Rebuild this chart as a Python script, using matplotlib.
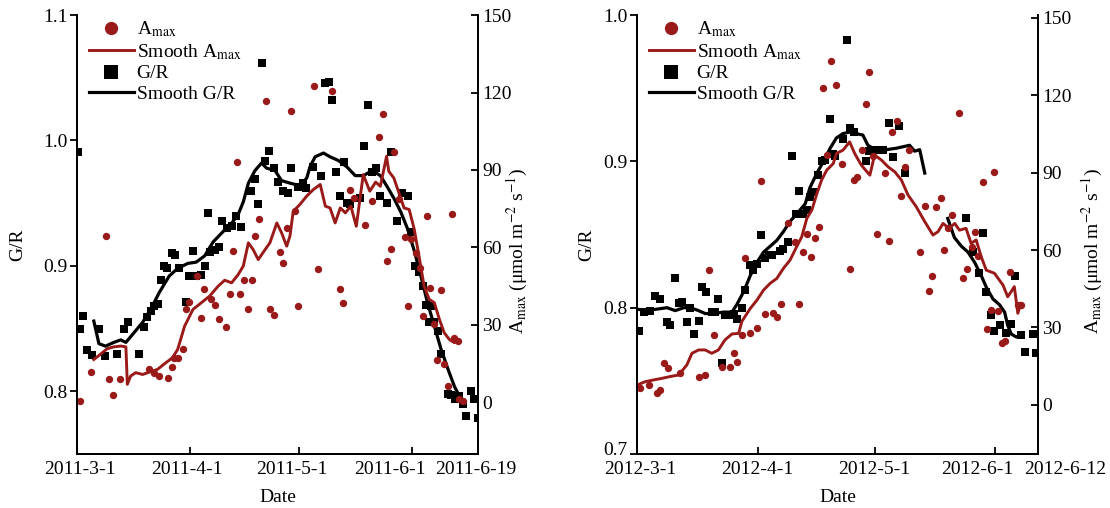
import numpy as np
import matplotlib
matplotlib.use("Agg")
import matplotlib.pyplot as plt
import matplotlib.dates as mdates
from matplotlib.transforms import ScaledTranslation
from datetime import datetime

# ---- 2011 (days after 2011-3-1) ----
gr11_day = [0.3, 0.7, 1.7, 2.8, 4.1, 6.0, 7.8, 10.9, 12.9, 14.0, 16.9, 18.4, 19.2, 20.4, 21.2, 22.1,
            23.0, 23.8, 24.7, 26.1, 27.0, 28.1, 29.9, 30.8, 31.9, 32.7, 34.1, 35.0, 35.9, 36.4, 37.8,
            38.9, 39.8, 41.2, 42.5, 43.7, 44.9, 47.6, 48.8, 49.7, 50.6, 51.6, 52.7, 53.9, 55.2, 56.5,
            57.9, 58.8, 60.7, 61.9, 62.8, 64.8, 67.0, 68.1, 69.0, 69.9, 71.1, 72.0, 73.1, 74.0, 75.0,
            77.7, 78.8, 79.8, 80.8, 81.9, 83.0, 84.9, 86.0, 87.7, 89.2, 90.8, 91.5, 92.6, 93.8, 94.8,
            95.7, 96.6, 97.0, 98.0, 98.9, 99.8, 101.7, 102.6, 103.6, 104.7, 105.8, 106.6, 108.0,
            109.0, 110.0]
gr11 = [0.991, 0.850, 0.860, 0.833, 0.829, 0.850, 0.828, 0.830, 0.850, 0.855, 0.830, 0.851, 0.859,
        0.864, 0.868, 0.870, 0.889, 0.900, 0.898, 0.910, 0.909, 0.898, 0.871, 0.892, 0.912, 0.892,
        0.893, 0.900, 0.942, 0.911, 0.913, 0.915, 0.936, 0.930, 0.932, 0.940, 0.931, 0.960, 0.969,
        0.949, 1.062, 0.984, 0.992, 0.978, 0.967, 0.960, 0.958, 0.978, 0.963, 0.966, 0.962, 0.979,
        0.972, 1.046, 1.047, 1.032, 0.975, 0.956, 0.983, 0.950, 0.949, 0.954, 0.996, 1.028, 0.975,
        0.978, 0.956, 0.950, 0.991, 0.936, 0.958, 0.956, 0.927, 0.900, 0.895, 0.884, 0.869, 0.855,
        0.868, 0.855, 0.848, 0.830, 0.798, 0.797, 0.794, 0.796, 0.790, 0.780, 0.800, 0.794, 0.779]

amax11_day = [0.9, 3.7, 8.0, 8.9, 9.9, 11.8, 19.8, 21.2, 22.6, 24.9, 26.0, 26.7, 27.8, 29.0, 29.9,
              30.8, 33.0, 33.9, 34.8, 36.8, 37.8, 38.9, 40.9, 41.9, 42.8, 43.9, 44.8, 45.8, 47.0,
              47.9, 48.8, 49.9, 51.9, 52.8, 53.9, 55.7, 56.6, 57.6, 58.8, 59.8, 60.7, 65.0, 66.0,
              69.9, 72.0, 72.9, 75.0, 76.1, 78.9, 80.9, 82.8, 84.0, 84.9, 86.0, 86.9, 88.3, 89.9,
              90.9, 91.7, 92.9, 94.1, 94.8, 95.9, 96.9, 97.8, 98.7, 99.8, 100.7, 101.8, 102.8,
              103.5, 104.4, 104.9, 105.8]
amax11 = [0.5, 11.7, 64.4, 9.2, 2.7, 9.2, 13.0, 11.5, 10.2, 9.5, 13.8, 17.3, 17.3, 20.8, 36.2, 38.8,
          49.1, 32.8, 44.0, 39.9, 37.9, 32.4, 29.3, 41.8, 58.6, 93.0, 41.8, 47.3, 36.0, 47.3, 64.6,
          71.1, 116.6, 36.0, 33.7, 58.2, 53.8, 67.6, 113.0, 74.0, 37.3, 122.4, 51.5, 120.5, 44.0,
          38.3, 82.4, 79.2, 68.6, 78.0, 102.8, 111.5, 54.7, 59.5, 96.9, 78.6, 64.1, 37.3, 63.3,
          57.7, 52.1, 33.4, 72.1, 44.4, 30.2, 16.6, 43.7, 14.7, 6.3, 73.1, 25.0, 23.7, 1.2, 0.5]

sgr11_day = [4.6, 6.0, 7.8, 10.1, 12.0, 13.4, 15.7, 18.0, 20.3, 22.6, 25.3, 27.6, 30.4, 32.7, 35.0,
             37.3, 39.6, 42.4, 44.2, 45.6, 47.0, 48.8, 50.6, 52.0, 54.3, 56.1, 58.4, 61.1, 63.0,
             63.9, 65.3, 67.6, 69.4, 71.7, 74.0, 76.3, 78.6, 80.9, 83.2, 85.1, 86.9, 88.8, 90.6,
             92.5, 94.3, 96.1, 98.0, 99.8, 101.7, 103.5, 104.9, 105.8]
sgr11 = [0.856, 0.838, 0.836, 0.839, 0.841, 0.839, 0.847, 0.855, 0.866, 0.879, 0.892, 0.898, 0.902,
         0.903, 0.908, 0.919, 0.926, 0.934, 0.941, 0.951, 0.966, 0.976, 0.982, 0.978, 0.976, 0.968,
         0.966, 0.964, 0.970, 0.979, 0.987, 0.990, 0.987, 0.984, 0.979, 0.972, 0.972, 0.976, 0.972,
         0.963, 0.954, 0.943, 0.930, 0.912, 0.892, 0.871, 0.852, 0.834, 0.818, 0.804, 0.796, 0.791]

samax11_day = [4.6, 6.4, 8.3, 10.1, 12.0, 13.4, 13.8, 14.7, 16.1, 18.0, 19.8, 22.1, 24.4, 26.2, 27.6,
               29.5, 31.8, 34.1, 36.4, 38.7, 40.5, 42.4, 44.2, 45.6, 47.0, 48.3, 49.7, 51.6, 52.9,
               54.8, 56.1, 57.5, 58.4, 59.3, 61.1, 63.0, 64.8, 66.7, 68.1, 69.4, 70.8, 72.2, 73.6,
               75.1, 76.6, 78.5, 80.3, 81.9, 83.2, 84.9, 85.5, 86.9, 88.3, 89.7, 91.1, 92.5, 93.8,
               95.2, 96.6, 98.0, 99.4, 100.7, 102.1, 103.5, 104.4]
samax11 = [16.6, 18.6, 20.8, 21.5, 21.8, 21.5, 7.0, 10.2, 11.5, 10.8, 11.7, 12.8, 15.4, 17.3, 20.5,
           29.5, 36.0, 38.6, 41.2, 45.0, 47.3, 46.3, 49.5, 52.8, 61.8, 59.2, 55.3, 59.2, 61.8, 69.5,
           65.7, 60.5, 64.4, 74.0, 76.6, 79.9, 82.4, 84.4, 76.0, 75.3, 69.5, 75.3, 73.4, 76.0, 68.2,
           88.2, 81.8, 85.3, 83.7, 95.3, 89.5, 86.9, 81.1, 75.3, 74.7, 67.0, 56.6, 45.0, 39.9, 38.6,
           32.1, 27.0, 24.4, 23.1, 24.4]

# ---- 2012 (days after 2012-3-1) ----
gr12_day = [0.4, 1.7, 3.4, 4.7, 6.0, 7.7, 8.5, 9.8, 10.7, 11.5, 12.8, 13.7, 14.7, 15.8, 16.7, 17.8,
            19.2, 19.9, 20.7, 21.8, 22.6, 23.9, 25.0, 25.8, 26.9, 27.8, 29.1, 29.9, 30.9, 31.9, 32.9,
            33.8, 34.6, 36.8, 37.6, 38.9, 39.7, 40.9, 41.7, 42.7, 43.6, 44.4, 45.3, 46.6, 47.4, 48.3,
            49.6, 50.4, 50.8, 52.9, 53.8, 54.8, 55.7, 58.7, 59.6, 60.4, 61.9, 63.2, 64.7, 65.7, 67.4,
            68.7, 84.5, 86.3, 87.8, 88.8, 89.7, 91.0, 91.8, 93.1, 94.8, 96.1, 97.0, 98.6, 99.7,
            101.8, 102.5]
gr12 = [0.784, 0.797, 0.798, 0.808, 0.806, 0.790, 0.788, 0.820, 0.803, 0.804, 0.790, 0.800, 0.782,
        0.791, 0.814, 0.811, 0.797, 0.797, 0.806, 0.762, 0.795, 0.795, 0.796, 0.792, 0.800, 0.812,
        0.829, 0.826, 0.830, 0.850, 0.834, 0.836, 0.836, 0.839, 0.840, 0.845, 0.904, 0.864, 0.880,
        0.864, 0.867, 0.876, 0.879, 0.891, 0.900, 0.901, 0.929, 0.905, 0.904, 0.915, 0.983, 0.923,
        0.920, 0.900, 0.907, 0.908, 0.908, 0.908, 0.926, 0.903, 0.924, 0.892, 0.861, 0.838, 0.824,
        0.851, 0.811, 0.795, 0.784, 0.788, 0.783, 0.789, 0.822, 0.781, 0.770, 0.782, 0.769]

amax12_day = [0.7, 3.0, 5.1, 5.8, 6.8, 7.9, 11.1, 15.8, 17.5, 18.6, 19.7, 21.8, 23.8, 24.8, 25.6,
              26.9, 27.8, 28.9, 30.8, 31.8, 32.9, 34.9, 35.9, 36.9, 38.9, 40.6, 41.7, 42.7, 43.6,
              44.6, 45.7, 46.8, 47.7, 48.7, 49.7, 51.1, 52.7, 54.8, 55.7, 56.5, 57.8, 58.7, 59.7,
              60.6, 61.7, 63.6, 64.7, 65.6, 66.8, 67.7, 68.7, 69.8, 72.7, 73.9, 74.9, 75.8, 76.9,
              78.0, 78.8, 79.8, 81.0, 82.8, 83.7, 84.7, 86.0, 86.9, 87.7, 88.8, 89.8, 90.8, 91.8,
              92.8, 93.8, 94.6, 95.8, 97.8, 98.6]
amax12 = [6.5, 7.7, 4.5, 5.8, 16.1, 14.2, 12.3, 11.0, 11.6, 52.2, 27.1, 14.6, 14.8, 20.0, 16.8, 27.1,
          56.8, 27.7, 29.7, 86.8, 35.2, 35.5, 34.2, 39.1, 70.6, 63.2, 39.1, 59.3, 66.4, 57.4, 64.5,
          69.0, 122.6, 96.8, 133.3, 123.8, 93.5, 52.5, 87.1, 88.1, 98.7, 116.7, 129.0, 96.4, 66.2,
          89.9, 63.6, 105.8, 110.0, 80.9, 92.2, 98.7, 59.3, 77.0, 44.2, 49.9, 76.5, 80.0, 60.2,
          68.4, 73.5, 113.1, 49.0, 52.5, 61.3, 67.1, 57.7, 86.4, 29.3, 36.8, 90.3, 36.5, 24.1,
          24.9, 51.6, 38.7, 38.7]

# smooth G/R has a gap in the record
sgr12_day = [0.0, 2.6, 5.1, 7.7, 9.8, 12.0, 13.7, 15.8, 17.5, 19.7, 22.2, 24.4, 25.6, 27.4, 29.1,
             30.8, 32.5, 34.2, 35.9, 37.6, 39.3, 41.0, 43.2, 44.4, 46.2, 47.9, 49.6, 51.2, 52.9,
             54.6, 56.3, 58.0, 59.3, 60.6, 62.3, 64.0, 66.6, 68.3, 70.0, 71.3, 72.6, 73.9, 76.0,
             79.8, 81.5, 83.3, 85.0, 86.7, 88.4, 89.7, 91.4, 93.1, 94.4, 95.2, 96.1, 97.4, 98.6]
sgr12 = [0.799, 0.798, 0.799, 0.800, 0.798, 0.800, 0.800, 0.798, 0.796, 0.796, 0.797, 0.797, 0.802,
         0.811, 0.822, 0.831, 0.838, 0.842, 0.846, 0.852, 0.859, 0.864, 0.871, 0.882, 0.892, 0.900,
         0.909, 0.916, 0.919, 0.920, 0.919, 0.918, 0.911, 0.909, 0.908, 0.908, 0.909, 0.910, 0.911,
         0.907, 0.908, 0.892, np.nan, 0.861, 0.848, 0.842, 0.838, 0.831, 0.822, 0.814, 0.806,
         0.802, 0.797, 0.788, 0.782, 0.780, 0.781]

samax12_day = [0.0, 2.1, 4.3, 6.4, 8.5, 10.7, 12.8, 14.1, 15.8, 17.5, 19.2, 20.9, 22.6, 24.4, 26.1,
               26.9, 29.1, 30.8, 32.5, 34.2, 35.9, 37.6, 39.3, 41.0, 42.3, 43.6, 44.9, 46.2, 47.4,
               48.7, 50.4, 51.2, 52.9, 54.6, 55.9, 57.6, 59.8, 61.0, 62.8, 64.5, 66.2, 67.9, 69.6,
               71.7, 73.9, 76.0, 77.3, 78.6, 80.1, 81.6, 82.8, 84.5, 85.8, 87.1, 88.4, 89.7, 91.8,
               94.0, 95.2, 96.1, 96.9, 97.8, 98.6]
samax12 = [7.7, 9.0, 9.7, 10.3, 11.0, 11.6, 15.5, 20.0, 21.3, 21.3, 20.0, 21.3, 25.2, 27.5, 27.7,
           32.3, 37.4, 40.6, 44.5, 47.1, 49.0, 52.9, 56.1, 61.3, 65.1, 72.2, 75.5, 81.9, 87.1, 90.9,
           93.5, 97.4, 98.7, 101.9, 97.4, 92.9, 89.0, 96.8, 94.8, 92.2, 90.3, 87.1, 81.3, 76.8,
           71.0, 65.8, 67.1, 70.3, 68.4, 70.3, 67.7, 68.4, 62.6, 63.9, 57.4, 52.2, 51.0, 46.4, 41.9,
           43.9, 45.8, 35.5, 39.3]

ticks11 = ["2011-3-1", "2011-4-1", "2011-5-1", "2011-6-1", "2011-6-19"]
ticks12 = ["2012-3-1", "2012-4-1", "2012-5-1", "2012-6-1", "2012-6-12"]

RED = "#9a1a1a"

plt.rcParams["font.family"] = ["Liberation Serif", "DejaVu Serif"]
plt.rcParams["mathtext.fontset"] = "stix"
plt.rcParams["font.size"] = 14


def nudge(fig, label, dx, dy):
    label.set_transform(label.get_transform() + ScaledTranslation(dx / 100, dy / 100, fig.dpi_scale_trans))


def panel(fig, rect, ticks, gr_d, gr, a_d, a, sgr_d, sgr, sa_d, sa, gr_lim, gr_ticks, a_lim,
          shift, gr_lab_x, a_lab_x):
    dates = [datetime.strptime(t, "%Y-%m-%d") for t in ticks]
    x0 = mdates.date2num(dates[0])
    ax = fig.add_axes(rect)
    ax2 = ax.twinx()

    hs, = ax.plot(x0 + np.array(gr_d), gr, "s", color="black", ms=5.8, mew=0)
    hl, = ax.plot(x0 + np.array(sgr_d), sgr, "-", color="black", lw=2.3)
    ha, = ax2.plot(x0 + np.array(a_d), a, "o", color=RED, ms=5.3, mew=0)
    hal, = ax2.plot(x0 + np.array(sa_d), sa, "-", color=RED, lw=2.1)

    ax.set_xlim(x0, mdates.date2num(dates[-1]))
    ax.set_xticks(mdates.date2num(dates))
    ax.set_xticklabels(ticks)
    ax.set_ylim(*gr_lim)
    ax.set_yticks(gr_ticks)
    ax.set_yticklabels(["%.1f" % t for t in gr_ticks])
    ax2.set_ylim(*a_lim)
    ax2.set_yticks([0, 30, 60, 90, 120, 150])

    for a_ in (ax, ax2):
        a_.spines["top"].set_visible(False)
        for s in a_.spines.values():
            s.set_linewidth(1.3)
    ax.tick_params(axis="x", direction="in", length=5, width=1.3, pad=5)
    ax.tick_params(axis="y", direction="out", length=5, width=1.3, pad=2)
    ax2.tick_params(axis="y", direction="in", length=5, width=1.3, pad=3)

    # nudge labels the way the original is set (after tick_params, which resets them)
    for lab, dx in zip(ax.get_xticklabels(), shift):
        nudge(fig, lab, dx, 0)
    if gr_lim[0] == gr_ticks[0]:
        nudge(fig, ax.get_yticklabels()[0], 0, 5)

    ax.set_xlabel("Date", labelpad=8)
    ax.set_ylabel("G/R")
    ax.yaxis.set_label_coords(gr_lab_x, 0.476)
    ax2.set_ylabel(r"A$_\mathrm{max}$ (μmol m$^{-2}$ s$^{-1}$)")
    ax2.yaxis.set_label_coords(a_lab_x, 0.462)

    ax2.legend([ha, hal, hs, hl],
               [r"A$_\mathrm{max}$", r"Smooth A$_\mathrm{max}$", "G/R", "Smooth G/R"],
               loc="upper left", bbox_to_anchor=(0.03, 0.99), frameon=False,
               markerscale=1.8, handlelength=2.3, handletextpad=0.15,
               labelspacing=0.15, borderaxespad=0, borderpad=0.0)


fig = plt.figure(figsize=(11.1, 5.08), dpi=100)
panel(fig, [0.0694, 0.1063, 0.3613, 0.864], ticks11,
      gr11_day, gr11, amax11_day, amax11, sgr11_day, sgr11, samax11_day, samax11,
      (0.75, 1.1), [0.8, 0.9, 1.0, 1.1], (-20, 150), [3, -3, -8, -23, -2], -0.127, 1.067)
panel(fig, [0.5739, 0.1063, 0.3613, 0.864], ticks12,
      gr12_day, gr12, amax12_day, amax12, sgr12_day, sgr12, samax12_day, samax12,
      (0.7, 1.0), [0.7, 0.8, 0.9, 1.0], (-19, 151), [3, 0, 0, -18, 27], -0.105, 1.105)

fig.savefig("out.png", dpi=100)
